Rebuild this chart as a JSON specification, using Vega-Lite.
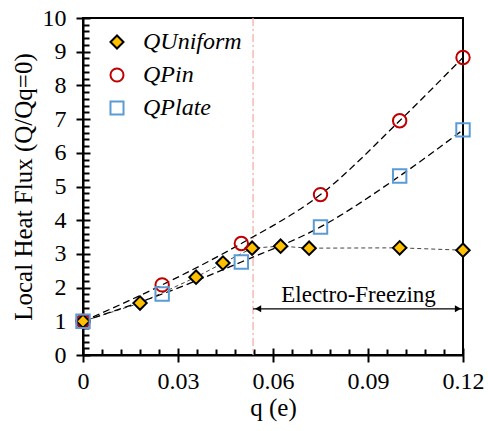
{
  "$schema": "https://vega.github.io/schema/vega-lite/v6.json",
  "width": 380,
  "height": 337,
  "autosize": {"type": "none"},
  "padding": {"left": 83, "top": 18, "right": 25, "bottom": 76},
  "config": {
    "view": {"stroke": "black", "strokeWidth": 2},
    "font": "Liberation Serif",
    "axis": {"grid": false, "labelFont": "Liberation Serif", "titleFont": "Liberation Serif", "labelColor": "black", "titleColor": "black", "tickColor": "black", "domainColor": "black"},
    "legend": {"labelFont": "Liberation Serif"}
  },
  "datasets": {
    "pts": [
      {"q": 0, "v": 1.0, "series": "Uniform"},
      {"q": 0.018, "v": 1.54, "series": "Uniform"},
      {"q": 0.0357, "v": 2.31, "series": "Uniform"},
      {"q": 0.0442, "v": 2.73, "series": "Uniform"},
      {"q": 0.0534, "v": 3.17, "series": "Uniform"},
      {"q": 0.0624, "v": 3.23, "series": "Uniform"},
      {"q": 0.0714, "v": 3.17, "series": "Uniform"},
      {"q": 0.1, "v": 3.18, "series": "Uniform"},
      {"q": 0.12, "v": 3.11, "series": "Uniform"},
      {"q": 0, "v": 1.0, "series": "Pin"},
      {"q": 0.025, "v": 2.08, "series": "Pin"},
      {"q": 0.05, "v": 3.31, "series": "Pin"},
      {"q": 0.075, "v": 4.76, "series": "Pin"},
      {"q": 0.1, "v": 6.95, "series": "Pin"},
      {"q": 0.12, "v": 8.83, "series": "Pin"},
      {"q": 0, "v": 1.0, "series": "Plate"},
      {"q": 0.025, "v": 1.81, "series": "Plate"},
      {"q": 0.05, "v": 2.76, "series": "Plate"},
      {"q": 0.075, "v": 3.8, "series": "Plate"},
      {"q": 0.1, "v": 5.31, "series": "Plate"},
      {"q": 0.12, "v": 6.68, "series": "Plate"}
    ]
  },
  "layer": [
    {
      "data": {"values": [{"q": 0.0537}]},
      "mark": {"type": "rule", "color": "#F6AFA8", "strokeWidth": 1.3, "strokeDash": [8, 3, 2, 3]},
      "encoding": {
        "x": {"field": "q", "type": "quantitative", "axis": null}
      }
    },
    {
      "data": {"name": "pts"},
      "transform": [{"filter": "datum.series === 'Uniform'"}],
      "mark": {"type": "line", "color": "#444444", "strokeWidth": 1, "strokeDash": [4, 3]},
      "encoding": {
        "x": {"field": "q", "type": "quantitative", "axis": {"orient": "bottom", "values": [0.006,0.012,0.018,0.024,0.036,0.042,0.048,0.054,0.066,0.072,0.078,0.084,0.096,0.102,0.108,0.114], "tickSize": -6, "tickWidth": 2, "labels": false, "domain": false, "title": null}},
        "y": {"field": "v", "type": "quantitative", "axis": {"orient": "left", "values": [0.2,0.4,0.6,0.8,1.2,1.4,1.6,1.8,2.2,2.4,2.6,2.8,3.2,3.4,3.6,3.8,4.2,4.4,4.6,4.8,5.2,5.4,5.6,5.8,6.2,6.4,6.6,6.8,7.2,7.4,7.6,7.8,8.2,8.4,8.6,8.8,9.2,9.4,9.6,9.8], "tickSize": -6, "tickWidth": 2, "labels": false, "domain": false, "title": null}}
      }
    },
    {
      "data": {"name": "pts"},
      "transform": [{"filter": "datum.series !== 'Uniform'"}],
      "mark": {"type": "line", "color": "black", "strokeWidth": 1.3, "strokeDash": [7, 4], "interpolate": "monotone"},
      "encoding": {
        "x": {"field": "q", "type": "quantitative", "axis": {"orient": "bottom", "values": [0, 0.03, 0.06, 0.09, 0.12], "tickSize": -7, "tickWidth": 2, "labels": false, "domain": false, "title": null}},
        "y": {"field": "v", "type": "quantitative", "axis": {"orient": "left", "values": [0,1,2,3,4,5,6,7,8,9,10], "tickSize": -7, "tickWidth": 2, "labels": false, "domain": false, "title": null}},
        "detail": {"field": "series"}
      }
    },
    {
      "data": {"values": [{"q": 0.0537, "v": 1.37}, {"q": 0.12, "v": 1.37}]},
      "mark": {"type": "line", "color": "black", "strokeWidth": 1.3},
      "encoding": {
        "x": {"field": "q", "type": "quantitative", "axis": null},
        "y": {"field": "v", "type": "quantitative", "axis": null}
      }
    },
    {
      "data": {"values": [{"q": 0.0553, "v": 1.37}]},
      "mark": {"type": "point", "shape": "triangle-left", "filled": true, "color": "black", "size": 50, "opacity": 1},
      "encoding": {
        "x": {"field": "q", "type": "quantitative", "axis": null},
        "y": {"field": "v", "type": "quantitative", "axis": null}
      }
    },
    {
      "data": {"values": [{"q": 0.1184, "v": 1.37}]},
      "mark": {"type": "point", "shape": "triangle-right", "filled": true, "color": "black", "size": 50, "opacity": 1},
      "encoding": {
        "x": {"field": "q", "type": "quantitative", "axis": null},
        "y": {"field": "v", "type": "quantitative", "axis": null}
      }
    },
    {
      "data": {"values": [{"q": 0.087, "v": 1.57, "label": "Electro-Freezing"}]},
      "mark": {"type": "text", "font": "Liberation Serif", "fontSize": 23, "baseline": "alphabetic", "align": "center", "color": "black"},
      "encoding": {
        "x": {"field": "q", "type": "quantitative", "axis": null},
        "y": {"field": "v", "type": "quantitative", "axis": null},
        "text": {"field": "label"}
      }
    },
    {
      "data": {"name": "pts"},
      "mark": {"type": "point", "size": 180, "opacity": 1, "strokeWidth": 2},
      "encoding": {
        "x": {"field": "q", "type": "quantitative", "scale": {"domain": [0, 0.12], "nice": false}, "axis": {"orient": "bottom", "values": [0, 0.03, 0.06, 0.09, 0.12], "format": ".2~f", "tickSize": 7, "tickWidth": 2, "domainWidth": 2, "labelFont": "Liberation Serif", "labelFontSize": 24, "labelPadding": 7, "labelFlush": false, "labelOverlap": false, "title": "q (e)", "titleFont": "Liberation Serif", "titleFontSize": 25, "titleFontWeight": "normal", "titlePadding": 2}},
        "y": {"field": "v", "type": "quantitative", "scale": {"domain": [0, 10], "nice": false}, "axis": {"orient": "left", "values": [0,1,2,3,4,5,6,7,8,9,10], "tickSize": 7, "tickWidth": 2, "domainWidth": 2, "labelFont": "Liberation Serif", "labelFontSize": 24, "labelPadding": 10, "labelOverlap": false, "title": "Local Heat Flux (Q/Qq=0)", "titleFont": "Liberation Serif", "titleFontSize": 25, "titleFontWeight": "normal", "titlePadding": 6}},
        "shape": {"field": "series", "type": "nominal", "scale": {"domain": ["Uniform", "Pin", "Plate"], "range": ["diamond", "circle", "square"]}, "title": null},
        "fill": {"field": "series", "type": "nominal", "scale": {"domain": ["Uniform", "Pin", "Plate"], "range": ["#FFC000", "transparent", "transparent"]}, "title": null},
        "stroke": {"field": "series", "type": "nominal", "scale": {"domain": ["Uniform", "Pin", "Plate"], "range": ["#000000", "#C00000", "#5B9BD5"]}, "title": null,
          "legend": {"orient": "none", "legendX": 22, "legendY": 12, "labelExpr": "'Q' + datum.label", "labelFont": "Liberation Serif", "labelFontStyle": "italic", "labelFontSize": 24, "labelColor": "black", "symbolSize": 170, "symbolStrokeWidth": 2, "rowPadding": 9, "labelOffset": 14, "padding": 0}}
      }
    }
  ],
  "resolve": {"axis": {"x": "independent", "y": "independent"}}
}
